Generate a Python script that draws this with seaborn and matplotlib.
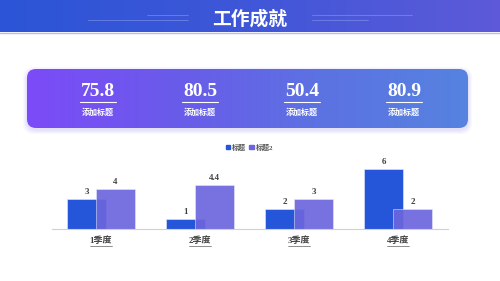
import numpy as np
import matplotlib
matplotlib.use("Agg")
import matplotlib.pyplot as plt
import seaborn as sns
from matplotlib.patches import FancyBboxPatch, Rectangle
from matplotlib.colors import LinearSegmentedColormap
from matplotlib.lines import Line2D

# ---- data ----
title = "工作成就"
kpi_values = ["75.8", "80.5", "50.4", "80.9"]
kpi_labels = ["添加标题", "添加标题", "添加标题", "添加标题"]
categories = ["1季度", "2季度", "3季度", "4季度"]
series_names = ["标题", "标题2"]
series1 = [3, 1, 2, 6]
series2 = [4, 4.4, 3, 2]

sns.set_theme(style="white")
FONT = ["Liberation Serif", "Noto Sans CJK SC", "DejaVu Sans"]
plt.rcParams["font.family"] = FONT

W, H = 500, 281
fig = plt.figure(figsize=(5, 2.81), dpi=100)
fig.patch.set_facecolor("white")

# background overlay axes in pixel coords
bg = fig.add_axes([0, 0, 1, 1], zorder=0)
bg.set_xlim(0, W)
bg.set_ylim(H, 0)
bg.axis("off")

# header gradient
hcmap = LinearSegmentedColormap.from_list("h", ["#2B55D6", "#3F57D8", "#5E5AD9"])
grad = np.linspace(0, 1, 256).reshape(1, -1)
bg.imshow(grad, cmap=hcmap, extent=[0, W, 32, 0], aspect="auto", zorder=1)
bg.add_line(Line2D([0, W], [32.5, 32.5], color="#B7BBF2", lw=1.0, zorder=2))
bg.text(250, 19, title, color="white", fontsize=13.5, fontweight="bold",
        ha="center", va="center", zorder=3, family=FONT)
for xs, y in [((147, 188), 15), ((88, 188), 20), ((312, 412), 15), ((312, 368), 20)]:
    bg.add_line(Line2D(list(xs), [y, y], color="#8FA0EE", lw=0.6, alpha=0.6, zorder=2))

# card shadow
for i, a in enumerate([0.05, 0.05, 0.06, 0.07]):
    g = 5 - i
    bg.add_patch(FancyBboxPatch((27 - g + 1, 69 - g + 3), 441 + 2 * g - 2, 59 + 2 * g - 2,
                                boxstyle="round,pad=0,rounding_size=11",
                                facecolor="#8C7CF0", edgecolor="none", alpha=a, zorder=2))
# card
card = FancyBboxPatch((27, 69), 441, 59, boxstyle="round,pad=0,rounding_size=9",
                      facecolor="none", edgecolor="none", zorder=3)
bg.add_patch(card)
ccmap = LinearSegmentedColormap.from_list("c", ["#7C4BF8", "#6A5BEA", "#5C72E2", "#5683E0"])
im = bg.imshow(grad, cmap=ccmap, extent=[27, 468, 128, 69], aspect="auto", zorder=3)
im.set_clip_path(card)

centers = [98, 200, 302, 404]
for cx, v, lab in zip(centers, kpi_values, kpi_labels):
    bg.text(cx, 91.5, v, color="white", fontsize=14, fontweight="bold",
            ha="center", va="center", zorder=4, family=FONT)
    bg.add_line(Line2D([cx - 18, cx + 18], [102, 102], color="white", lw=0.8, zorder=4))
    bg.text(cx, 113, lab, color="white", fontsize=5.8, fontweight="bold",
            ha="center", va="center", zorder=4, family=FONT)

# ---- bar chart ----
ax = fig.add_axes([51.5 / W, (H - 229) / H, 396 / W, 70 / H], zorder=2)
ax.patch.set_alpha(0)
c1, c2 = "#2556D9", "#6B66DE"
bw = 0.394
off = 0.146

sns.barplot(x=categories, y=series1, color=c1, width=bw, ax=ax, label=series_names[0],
            edgecolor="#E8ECFA", linewidth=0.4, saturation=1)
n1 = len(ax.patches)
for p in ax.patches[:n1]:
    p.set_x(p.get_x() - off)
sns.barplot(x=categories, y=series2, color=c2, width=bw, ax=ax, label=series_names[1],
            edgecolor="#E8ECFA", linewidth=0.4, saturation=1, alpha=0.92)
for p in ax.patches[n1:]:
    p.set_x(p.get_x() + off)

for cont in ax.containers:
    ax.bar_label(cont, padding=2.5, fontsize=6.5, fontweight="bold", color="#404040",
                 family=FONT)

ax.set_xlim(-0.5, 3.5)
ax.set_ylim(0, 7)
ax.set_yticks([])
ax.set_xlabel("")
ax.set_ylabel("")
for s in ["top", "right", "left"]:
    ax.spines[s].set_visible(False)
ax.spines["bottom"].set_color("#D0D0D0")
ax.spines["bottom"].set_linewidth(0.8)
ax.tick_params(axis="x", length=0, pad=5, labelsize=6.5, labelcolor="#404040")
for t in ax.get_xticklabels():
    t.set_fontweight("bold")
    t.set_family(FONT)
for i in range(len(categories)):
    bg.add_line(Line2D([101 + 99 * i - 11, 101 + 99 * i + 11], [245.5, 245.5],
                       color="#606060", lw=0.5, zorder=4))

handles = [Rectangle((0, 0), 1, 1, color=c1), Rectangle((0, 0), 1, 1, color=c2)]
leg = ax.legend(handles, series_names, loc="center", bbox_to_anchor=(0.5, (H - 147 - 52) / 70),
                ncol=2, frameon=False, handlelength=0.6, handleheight=0.6,
                handletextpad=0.3, columnspacing=0.5, prop={"family": FONT, "size": 5, "weight": "bold"})
for t in leg.get_texts():
    t.set_color("#555555")

fig.savefig("out.png", dpi=100)
